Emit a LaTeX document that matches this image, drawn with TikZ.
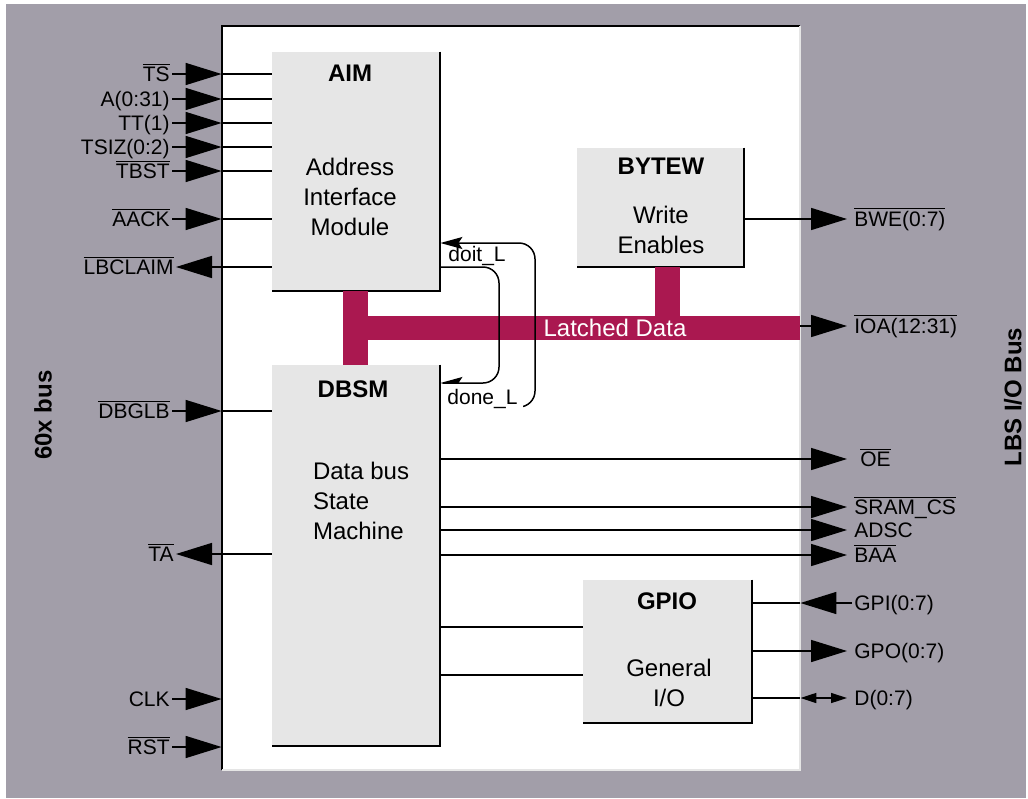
\documentclass[tikz,border=0pt]{standalone}
\usepackage{fontspec}
\setmainfont{Liberation Sans}
\usetikzlibrary{arrows.meta}
\definecolor{busgray}{RGB}{162,158,169}
\definecolor{boxfill}{RGB}{230,230,230}
\definecolor{latched}{RGB}{170,24,80}
\newcommand{\lowact}[1]{$\overline{\mbox{#1}}$}
\begin{document}
\begin{tikzpicture}[x=0.5pt, y=-0.5pt,
		font=\fontsize{10.5}{12}\selectfont,
		wire/.style={line width=0.75pt},
		buswire/.style={line width=1.3pt},
		bigtip/.style={-{Triangle[length=18pt,width=11pt]}, line width=0.75pt},
		smalltip/.style={-{Stealth[length=11pt,width=6pt,inset=2pt]}, line width=0.75pt},
		sig/.style={inner sep=1pt, text height=9.5pt, text depth=2pt},
		block/.style={fill=boxfill, inner sep=0pt},
		title/.style={font=\fontsize{12}{14}\selectfont\bfseries},
		body/.style={font=\fontsize{12}{15.2}\selectfont, align=center}
	]
	\useasboundingbox (0,0) rectangle (1028,798);
	\fill[busgray] (6,4) rectangle (1026,798);
	% white panel
	\node[fill=white, inner sep=0pt, minimum width=289pt, minimum height=372pt] (panel) at (511,398) {};
	\draw[line width=1pt] (panel.south west) -- (panel.north west) -- (panel.north east);
	\draw[line width=1pt, black!10] (panel.north east) -- (panel.south east) -- (panel.south west);
	\node[title, rotate=90] (busL) at (43,415) {60x bus};
	\node[title, rotate=90] (busR) at (1013,397) {LBS I/O Bus};
	% blocks
	\node[block, minimum width=84pt, minimum height=119.5pt] (aim) at (356,171.5) {};
	\node[block, minimum width=84pt, minimum height=190.5pt] (dbsm) at (356,555.5) {};
	\node[block, minimum width=83.5pt, minimum height=59.5pt] (bytew) at (660.5,207.5) {};
	\node[block, minimum width=84.5pt, minimum height=71.5pt] (gpio) at (667.5,651.5) {};
	\foreach \b in {aim,dbsm,bytew,gpio}
		\draw[line width=1pt] (\b.north east) -- (\b.south east) -- (\b.south west);
	\node[title] (aimT) at (350,73) {AIM};
	\node[body] (aimB) at (350,197) {Address\\Interface\\Module};
	\node[title] (dbsmT) at (353,389) {DBSM};
	\node[body, align=left, anchor=west] (dbsmB) at (306,501) {Data bus\\State\\Machine};
	\node[title] (bytewT) at (661,166) {BYTEW};
	\node[body] (bytewB) at (661,230) {Write\\Enables};
	\node[title] (gpioT) at (667,601) {GPIO};
	\node[body] (gpioB) at (669,683) {General\\I/O};
	% latched data bus
	\fill[latched] (343,291) rectangle (368,365);
	\fill[latched] (655,267) rectangle (680,316);
	\fill[latched] (343,316) rectangle (800,340);
	\node[text=white, font=\fontsize{12}{14}\selectfont] (latch) at (615,328) {Latched Data};
	% 60x bus signals
	\foreach \n/\y/\t in {ts/74/{\lowact{TS}}, a/99/{A(0:31)}, tt/123/{TT(1)},
			tsiz/147/{TSIZ(0:2)}, tbst/171/{\lowact{TBST}}, aack/219/{\lowact{AACK}},
			dbglb/411/{\lowact{DBGLB}}, clk/699/{CLK}, rst/747/{\lowact{RST}}}
		\node[sig, anchor=east] (\n) at (172,\y) {\t};
	\node[sig, anchor=east] (lbclaim) at (176,267) {\lowact{LBCLAIM}};
	\node[sig, anchor=east] (ta) at (176,554) {\lowact{TA}};
	\foreach \n in {ts,a,tt,tsiz,tbst,aack,dbglb,clk,rst}
		\draw[bigtip] (\n.east) -- (\n.east -| panel.west);
	\foreach \n in {ts,tt,tbst,aack}
		\draw[wire] (\n.east -| panel.west) -- (\n.east -| aim.west);
	\foreach \n in {a,tsiz}
		\draw[buswire] (\n.east -| panel.west) -- (\n.east -| aim.west);
	\draw[wire] (dbglb.east -| panel.west) -- (dbglb.east -| dbsm.west);
	\foreach \n/\b in {lbclaim/aim, ta/dbsm}
		\draw[bigtip] (\n.east -| \b.west) -- (\n.east);
	% LBS I/O bus signals
	\coordinate (rtip) at (847,0);
	\foreach \n/\y/\t in {bwe/219/{\lowact{BWE(0:7)}}, ioa/326/{\lowact{IOA(12:31)}},
			sramcs/507/{\lowact{SRAM\_CS}}, adsc/530/{ADSC}, baa/555/{\lowact{BAA}},
			gpi/603/{GPI(0:7)}, gpo/651/{GPO(0:7)}, d/698/{D(0:7)}}
		\node[sig, anchor=west] (\n) at (852,\y) {\t};
	\node[sig, anchor=west] (oe) at (858,459) {\lowact{OE}};
	\foreach \n/\b in {oe/dbsm, sramcs/dbsm, adsc/dbsm, baa/dbsm, bwe/bytew, gpo/gpio, ioa/panel}
		\draw[bigtip] (\n.west -| \b.east) -- (\n.west -| rtip);
	\draw[bigtip] (gpi.west) -- (gpi.west -| panel.east);
	\draw[wire] (gpi.west -| panel.east) -- (gpi.west -| gpio.east);
	\draw[wire] (d.west -| gpio.east) -- (d.west -| panel.east);
	\draw[{Triangle[length=8pt,width=5pt]}-{Triangle[length=8pt,width=5pt]}, wire] (d.west -| panel.east) -- (d.west -| rtip);
	% DBSM to GPIO
	\draw[wire] (dbsm.east |- 0,627) -- (gpio.west |- 0,627);
	\draw[wire] (dbsm.east |- 0,675) -- (gpio.west |- 0,675);
	% handshake
	\draw[smalltip, rounded corners=8pt] (aim.east |- 0,267) -- (499,267) -- (499,383) -- (dbsm.east |- 0,383);
	\draw[smalltip, rounded corners=8pt] (dbsm.east |- 0,407) -- (535,407) -- (535,243) -- (aim.east |- 0,243);
	\node[sig, anchor=west] (doit) at (446,254) {doit\_L};
	\node[sig, anchor=west, fill=white, inner xsep=3pt] (done) at (441,397) {done\_L};
\end{tikzpicture}
\end{document}
